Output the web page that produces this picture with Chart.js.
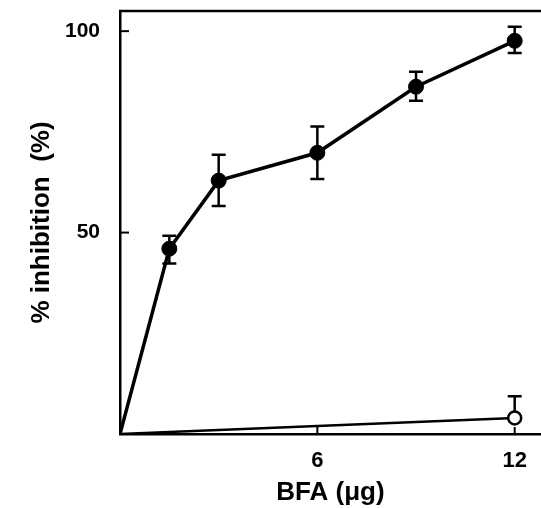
<!DOCTYPE html>
<html>
<head>
<meta charset="utf-8">
<script src="https://cdn.jsdelivr.net/npm/chart.js@4.4.0/dist/chart.umd.min.js"></script>
<style>
  html, body { margin: 0; padding: 0; background: #fff; }
  canvas { display: block; }
</style>
</head>
<body>
<canvas id="chart" width="541" height="508"></canvas>
<script>
  // data
  const doseBfa = [0, 1.5, 3, 6, 9, 12];
  const inhibitionBfa = [0, 46.0, 62.9, 69.8, 86.2, 97.6];
  const errUpBfa = [null, 49.2, 69.3, 76.3, 89.9, 101.1];
  const errDownBfa = [null, 42.3, 56.6, 63.3, 82.7, 94.6];

  const doseControl = [0, 12];
  const inhibitionControl = [0, 4.0];
  const errUpControl = [null, 9.4];
  const errDownControl = [null, null];

  const xTickValues = [6, 12];
  const yTickValues = [50, 100];

  const FONT = "'Liberation Sans', Arial, Helvetica, sans-serif";

  function toPoints(xs, ys) {
    return xs.map((x, i) => ({ x: x, y: ys[i] }));
  }

  // error bars with caps, drawn under the markers
  const errorBars = {
    id: 'errorBars',
    beforeDatasetsDraw(chart) {
      const ctx = chart.ctx;
      const yScale = chart.scales.y;
      ctx.save();
      ctx.strokeStyle = '#000';
      ctx.lineWidth = 2.5;
      chart.data.datasets.forEach((ds, di) => {
        const meta = chart.getDatasetMeta(di);
        meta.data.forEach((pt, i) => {
          const up = ds.errUp ? ds.errUp[i] : null;
          const down = ds.errDown ? ds.errDown[i] : null;
          const cy = yScale.getPixelForValue(ds.data[i].y);
          const half = 7;
          [up, down].forEach((v) => {
            if (v === null || v === undefined) return;
            const ey = yScale.getPixelForValue(v);
            ctx.beginPath();
            ctx.moveTo(pt.x, cy);
            ctx.lineTo(pt.x, ey);
            ctx.moveTo(pt.x - half, ey);
            ctx.lineTo(pt.x + half, ey);
            ctx.stroke();
          });
        });
      });
      ctx.restore();
    }
  };

  // top frame line and inward tick marks
  const frame = {
    id: 'frame',
    afterDraw(chart) {
      const ctx = chart.ctx;
      const area = chart.chartArea;
      const xs = chart.scales.x, ys = chart.scales.y;
      ctx.save();
      ctx.strokeStyle = '#000';
      ctx.lineWidth = 2.5;
      ctx.beginPath();
      ctx.moveTo(area.left - 1, area.top);
      ctx.lineTo(area.right, area.top);
      ctx.stroke();
      ctx.lineWidth = 2;
      xs.ticks.forEach((t) => {
        const px = xs.getPixelForValue(t.value);
        ctx.beginPath();
        ctx.moveTo(px, area.bottom);
        ctx.lineTo(px, area.bottom - 7);
        ctx.stroke();
      });
      ys.ticks.forEach((t) => {
        const py = ys.getPixelForValue(t.value);
        ctx.beginPath();
        ctx.moveTo(area.left, py);
        ctx.lineTo(area.left + 9, py);
        ctx.stroke();
      });
      ctx.restore();
    }
  };

  new Chart(document.getElementById('chart'), {
    type: 'scatter',
    data: {
      datasets: [
        {
          label: 'BFA',
          data: toPoints(doseBfa, inhibitionBfa),
          errUp: errUpBfa,
          errDown: errDownBfa,
          showLine: true,
          borderColor: '#000',
          borderWidth: 3.5,
          backgroundColor: '#000',
          pointRadius: doseBfa.map((x) => (x === 0 ? 0 : 7.5)),
          pointBorderWidth: 1,
          pointBorderColor: '#000',
          pointBackgroundColor: '#000',
          tension: 0
        },
        {
          label: 'control',
          data: toPoints(doseControl, inhibitionControl),
          errUp: errUpControl,
          errDown: errDownControl,
          showLine: true,
          borderColor: '#000',
          borderWidth: 2.5,
          backgroundColor: '#fff',
          pointRadius: doseControl.map((x) => (x === 0 ? 0 : 6.5)),
          pointBorderWidth: 2.5,
          pointBorderColor: '#000',
          pointBackgroundColor: '#fff',
          tension: 0
        }
      ]
    },
    options: {
      responsive: false,
      animation: false,
      events: [],
      layout: { autoPadding: false, padding: { top: 11, right: 0, bottom: 0, left: 0 } },
      plugins: {
        legend: { display: false },
        tooltip: { enabled: false }
      },
      scales: {
        x: {
          type: 'linear',
          min: 0,
          max: 12.8,
          afterBuildTicks(scale) {
            scale.ticks = xTickValues.map((v) => ({ value: v }));
          },
          afterFit(scale) {
            scale.height = 74;
            scale.paddingLeft = 0;
            scale.paddingRight = 0;
          },
          grid: { display: false },
          border: { display: true, color: '#000', width: 2.5 },
          ticks: {
            color: '#000',
            padding: 6,
            font: { family: FONT, size: 22, weight: 'bold' },
            maxRotation: 0
          },
          title: {
            display: true,
            text: 'BFA (μg)',
            color: '#000',
            font: { family: FONT, size: 26, weight: 'bold' },
            padding: { top: 0, bottom: 0 }
          }
        },
        y: {
          min: 0,
          max: 105,
          afterBuildTicks(scale) {
            scale.ticks = yTickValues.map((v) => ({ value: v }));
          },
          afterFit(scale) {
            scale.width = 120;
            scale.paddingTop = 0;
            scale.paddingBottom = 0;
          },
          grid: { display: false },
          border: { display: true, color: '#000', width: 2.5 },
          ticks: {
            color: '#000',
            padding: 12,
            font: { family: FONT, size: 21, weight: 'bold' }
          },
          title: {
            display: true,
            text: '% inhibition  (%)',
            color: '#000',
            font: { family: FONT, size: 26, weight: 'bold' },
            padding: { top: 26, bottom: 0 }
          }
        }
      }
    },
    plugins: [errorBars, frame]
  });
</script>
</body>
</html>
